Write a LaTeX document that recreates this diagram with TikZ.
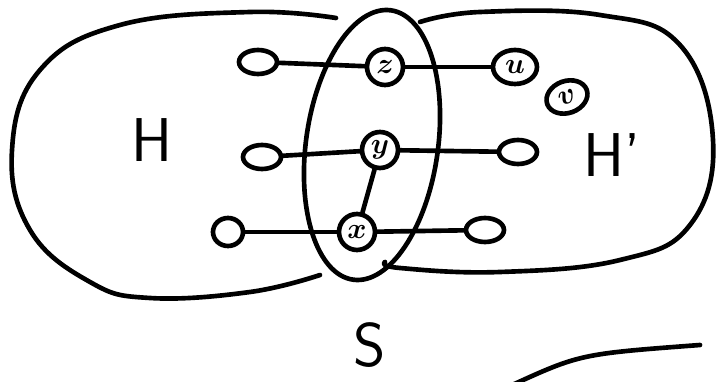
\documentclass[tikz,border=0pt]{standalone}
\usepackage{amsmath,bm}
\usepackage{tikz}
\usetikzlibrary{shapes.geometric}
\tikzset{
  pen/.style={line width=3.3pt, line cap=round, line join=round},
  vtx/.style={pen, draw, circle, minimum size=0.9cm, inner sep=0pt, font=\huge},
  leaf/.style={pen, draw, ellipse, minimum width=0.95cm, minimum height=0.6cm, inner sep=0pt},
  big/.style={font=\sffamily\fontsize{44}{44}\selectfont}
}

\begin{document}
\begin{tikzpicture}
\useasboundingbox (0,0) rectangle (18,9.55);
% the two sides
\draw[pen] plot[smooth, tension=0.7] coordinates {(8.4,9.1) (6.25,9.25) (3.0,8.925) (1.0,7.8) (0.3,5.8)
  (0.75,3.8) (2.25,2.5) (3.75,2.1) (6.25,2.25) (8.0,2.675)};
\draw[pen] plot[smooth, tension=0.7] coordinates {(10.5,9.0) (12.0,9.25) (15.0,9.175) (17.0,8.425)
  (17.825,6.05) (17.25,3.925) (15.5,3.05) (12.5,2.75) (10.0,2.85) (9.625,3.0)};
% separator
\draw[pen, rotate around={-8:(9.3,5.925)}] (9.3,5.925) ellipse (1.65 and 3.4);

% vertices
\node[vtx] (z) at (9.625,7.875) {$\bm{z}$};
\node[vtx] (y) at (9.5,5.8) {$\bm{y}$};
\node[vtx] (x) at (8.925,3.75) {$\bm{x}$};
\node[vtx, ellipse, minimum width=1.1cm, minimum height=0.85cm] (u) at (12.875,7.875) {$\bm{u}$};
\node[vtx, ellipse, minimum width=1.05cm, minimum height=0.8cm, rotate=20] (v) at (14.175,7.125) {$\bm{v}$};
\node[leaf] (zl) at (6.45,8.0) {};
\node[leaf] (yl) at (6.55,5.625) {};
\node[leaf] (yr) at (12.95,5.75) {};
\node[leaf, minimum width=0.75cm, minimum height=0.7cm] (xl) at (5.7,3.75) {};
\node[leaf] (xr) at (12.125,3.8) {};

% edges
\foreach \a/\b in {zl/z, z/u, yl/y, y/yr, xl/x, x/xr, y/x}
  \draw[pen] (\a) -- (\b);

% labels
\node[big] (lH) at (3.8,6.05) {H};
\node[big] (lHp) at (15.3,5.675) {H'};
\node[big] (lS) at (9.25,0.925) {S};

\draw[pen] (12.75,-0.1) .. controls (14.5,0.7) .. (17.5,0.925);
\end{tikzpicture}
\end{document}
